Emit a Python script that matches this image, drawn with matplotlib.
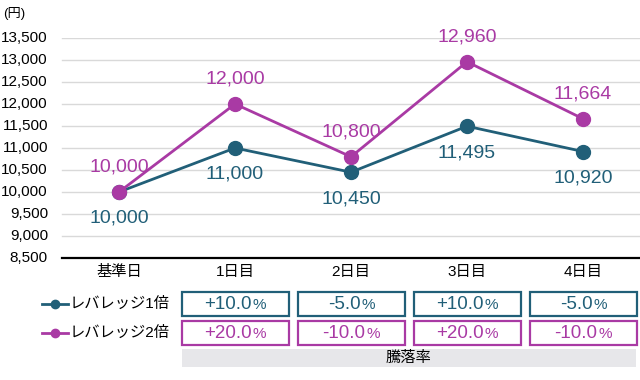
import matplotlib
matplotlib.use("Agg")
import matplotlib.pyplot as plt
from matplotlib.patches import Rectangle
from matplotlib.lines import Line2D

plt.rcParams['font.family'] = ['Liberation Sans', 'Noto Sans CJK JP', 'DejaVu Sans']

days = ["基準日", "1日目", "2日目", "3日目", "4日目"]
lev1 = [10000, 11000, 10450, 11495, 10920]
lev2 = [10000, 12000, 10800, 12960, 11664]
rate1 = ["+10.0", "-5.0", "+10.0", "-5.0"]
rate2 = ["+20.0", "-10.0", "+20.0", "-10.0"]
names = ["レバレッジ1倍", "レバレッジ2倍"]
yticks = list(range(8500, 13501, 500))

c1 = "#215f78"
c2 = "#a93aa4"

W, H = 640, 380
fig = plt.figure(figsize=(6.4, 3.8), dpi=100)

# main chart: x index 0 sits at px 119, step 116 px
x0, step = 119, 116
def px2i(px):
    return (px - x0) / step

ax = fig.add_axes([0, 1 - 258 / H, 1, (258 - 38) / H])
xs = list(range(len(days)))
ax.set_xlim(px2i(0), px2i(W))
ax.set_ylim(8500, 13500)
ax.set_yticks([])
ax.set_xticks([])
for s in ax.spines.values():
    s.set_visible(False)
for v in yticks:
    ax.text(px2i(48), v, f"{v:,}", ha='right', va='center', fontsize=11)
for v in yticks[1:]:
    ax.plot([px2i(62), px2i(W)], [v, v], color="#d9d9d9", lw=1, zorder=0)
ax.plot([px2i(62), px2i(W)], [8500, 8500], color="black", lw=1.6, zorder=1, clip_on=False)

ax.plot(xs, lev1, color=c1, lw=2, marker='o', ms=10, zorder=3)
ax.plot(xs, lev2, color=c2, lw=2, marker='o', ms=10, zorder=4)
for x, v in zip(xs, lev1):
    ax.annotate(f"{v:,}", (x, v), xytext=(0, -19), textcoords='offset points',
                ha='center', va='center', fontsize=14, color=c1)
for x, v in zip(xs, lev2):
    ax.annotate(f"{v:,}", (x, v), xytext=(0, 18), textcoords='offset points',
                ha='center', va='center', fontsize=14, color=c2)
fig.text(3 / W, 1 - 13 / H, "(円)", fontsize=9.5, va='center', ha='left')

# table area in pixel coordinates
tb = fig.add_axes([0, 0, 1, 122 / H])
tb.set_xlim(px2i(0), px2i(W))
tb.set_ylim(H, 258)
tb.axis('off')
bw = 107 / step
for i, d in enumerate(days):
    tb.text(i, 272, d, ha='center', va='center', fontsize=11, color='black')
for row, (rates, col, yc) in enumerate([(rate1, c1, 304), (rate2, c2, 333)]):
    for i, r in enumerate(rates, start=1):
        tb.add_patch(Rectangle((i - bw / 2, yc - 12), bw, 24, fill=False,
                               edgecolor=col, lw=1.6))
        t = tb.annotate(r, (i, yc + 1), xytext=(-5, 0), textcoords='offset points',
                        ha='center', va='center', fontsize=13.5, color=col)
        tb.annotate("%", xy=(1, 0), xycoords=t, xytext=(0.5, 1.2),
                    textcoords='offset points', ha='left', va='bottom',
                    fontsize=11, color=col)
    tb.add_line(Line2D([px2i(42), px2i(68)], [yc, yc], color=col, lw=2))
    tb.plot([px2i(55)], [yc], 'o', color=col, ms=6)
    tb.text(px2i(70), yc, names[row], ha='left', va='center', fontsize=11,
            color='black')
tb.add_patch(Rectangle((1 - bw / 2, 349), px2i(636) - (1 - bw / 2), 18,
                       facecolor="#e7e7ea", edgecolor='none'))
tb.text((1 - bw / 2 + px2i(636)) / 2, 358, "騰落率", ha='center', va='center',
        fontsize=11, color='black')

fig.savefig("out.png", dpi=100)
